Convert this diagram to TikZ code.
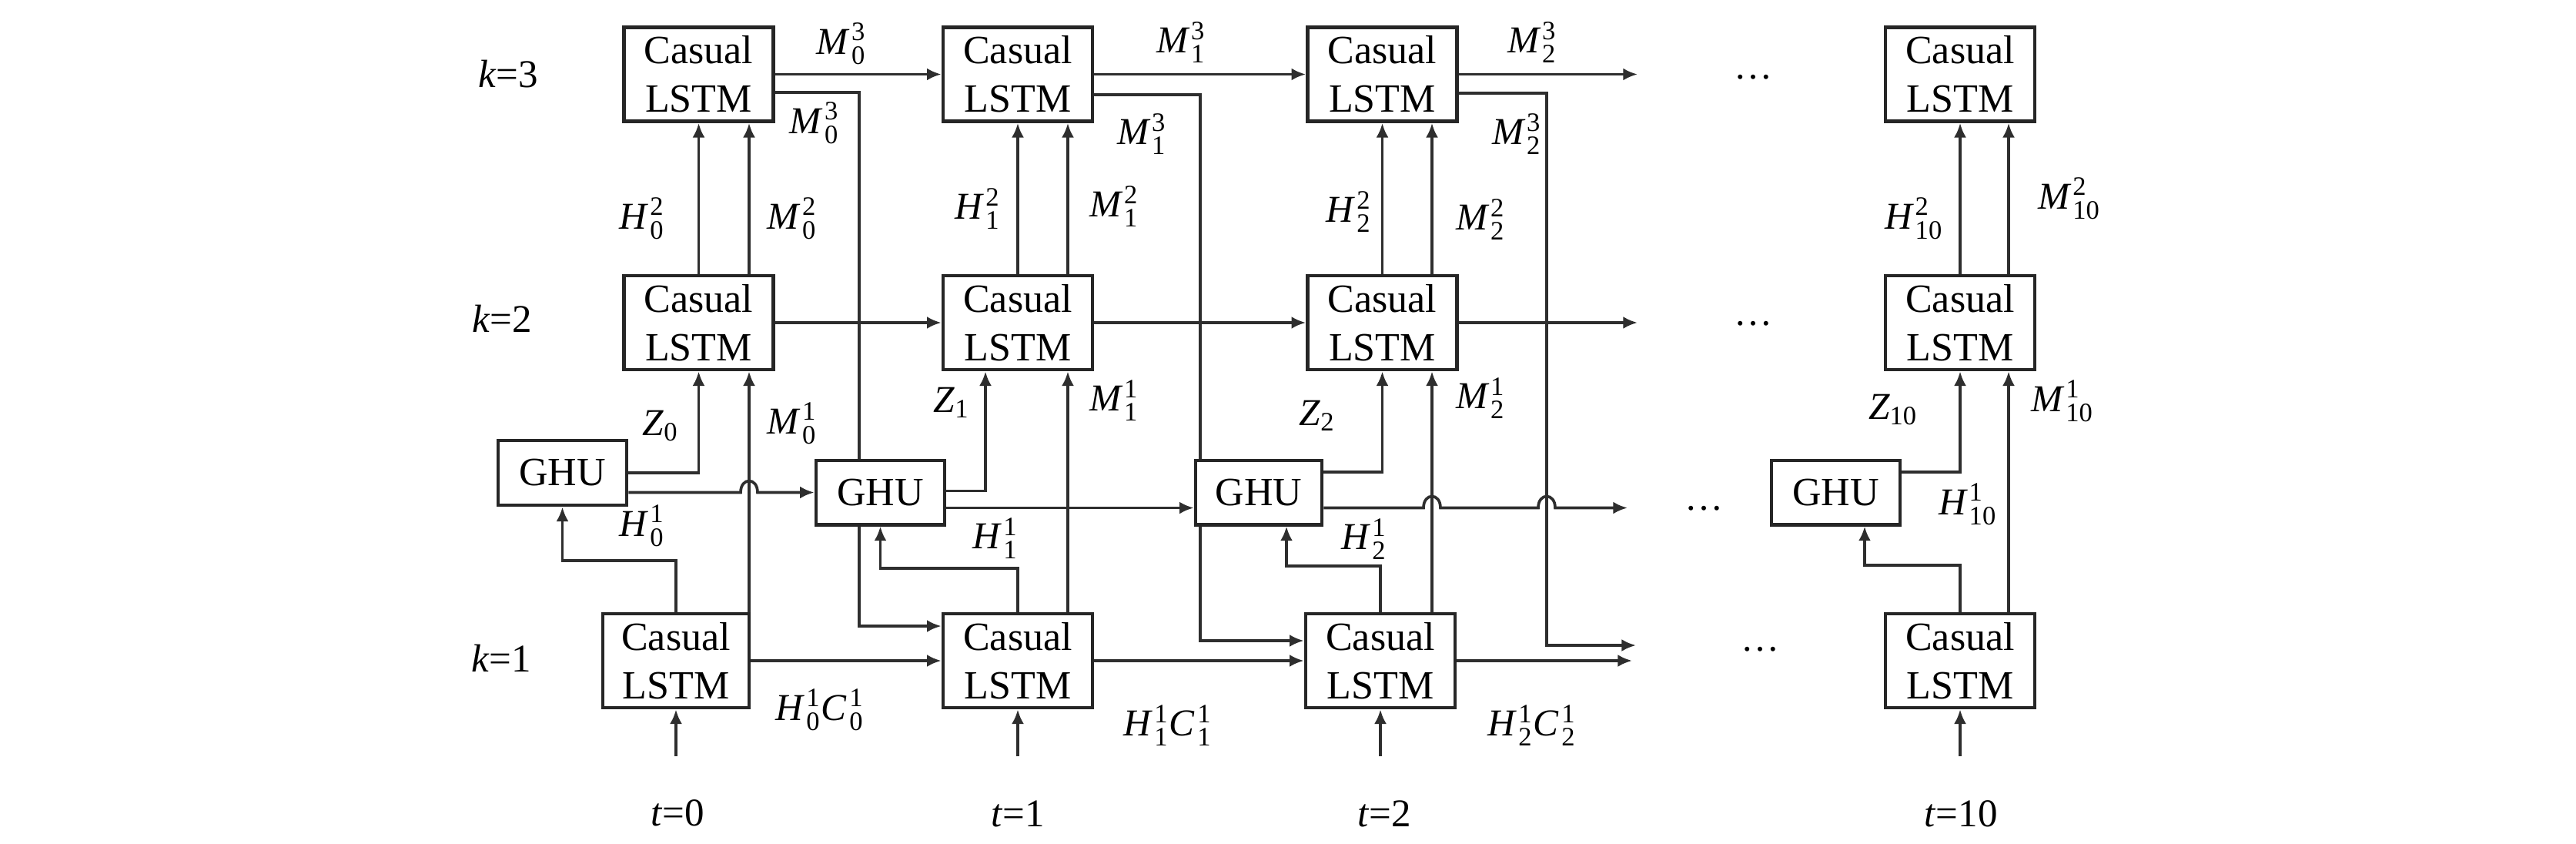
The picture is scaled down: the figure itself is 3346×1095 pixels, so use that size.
\documentclass[tikz,border=0pt]{standalone}
\usepackage{amsmath}
\usepackage{fontspec}
\setmainfont{Liberation Serif}
\usetikzlibrary{arrows.meta,calc,backgrounds}
\newcommand\sy[3]{$\textit{#1}\mkern1.5mu_{\text{#2}}^{\text{#3}}$}
\newcommand\hcl[1]{$\textit{H}\mkern1.5mu_{\text{#1}}^{\text{1}}\textit{C}\mkern1.5mu_{\text{#1}}^{\text{1}}$}
\begin{document}
\begin{tikzpicture}[x=0.3pt,y=-0.3pt,
  lstm/.style={draw=black!85,line width=1.4pt,fill=white,minimum width=58.2pt,minimum height=36.6pt,inner sep=0pt,align=center,font=\fontsize{15.6}{18.9}\selectfont},
  ghu/.style={draw=black!85,line width=1.4pt,fill=white,minimum width=50.1pt,minimum height=25pt,inner sep=0pt,font=\fontsize{15.6}{18}\selectfont},
  ln/.style={draw=black!82,line width=1.1pt},
  arr/.style={ln,-{Latex[length=5.6pt,width=4.8pt]}},
  lab/.style={inner sep=0pt,font=\fontsize{14.8}{17}\selectfont},
  klab/.style={inner sep=0pt,font=\fontsize{15.3}{17}\selectfont},
  dts/.style={inner sep=0pt,font=\fontsize{15}{15}\selectfont}]
\useasboundingbox (0,0) rectangle (3346,1095);
% boxes
\node[lstm] (A3) at (907.5,96.5) {Casual\\LSTM};
\node[lstm] (A2) at (907.5,419) {Casual\\LSTM};
\node[lstm,minimum width=57pt] (A1) at (878,858) {Casual\\LSTM};
\node[ghu,minimum height=25.2pt] (G0) at (730.5,614) {GHU};
\node[lstm] (B3) at (1322,96.5) {Casual\\LSTM};
\node[lstm] (B2) at (1322,419) {Casual\\LSTM};
\node[lstm] (B1) at (1322,858) {Casual\\LSTM};
\node[ghu] (G1) at (1143.5,639.5) {GHU};
\node[lstm] (C3) at (1795.5,96.5) {Casual\\LSTM};
\node[lstm] (C2) at (1795.5,419) {Casual\\LSTM};
\node[lstm] (C1) at (1793,858) {Casual\\LSTM};
\node[ghu,minimum width=49.2pt] (G2) at (1635,639.5) {GHU};
\node[lstm] (D3) at (2546,96.5) {Casual\\LSTM};
\node[lstm] (D2) at (2546,419) {Casual\\LSTM};
\node[lstm] (D1) at (2546,858) {Casual\\LSTM};
\node[ghu] (G10) at (2384.5,639.5) {GHU};
% helper coordinates
\coordinate (xm0) at (973,0);
\coordinate (xm1) at (1387,0);
\coordinate (xm2) at (1860,0);
\coordinate (xm10) at (2609,0);
\coordinate (xz1) at (1280,0);
\coordinate (gx2) at (1671,0);
\coordinate (gx10) at (2422,0);
\coordinate (hb0) at (0,728);
\coordinate (hb1) at (0,738);
\coordinate (hb2) at (0,735);
\coordinate (hb10) at (0,734);
\coordinate (m0) at (1116,813);
\coordinate (m1) at (1559,832);
\coordinate (m2) at (2009,838);
\coordinate (e3) at (2127,96.5);
\coordinate (e2) at (2127,419);
\coordinate (e1) at (2120,858);
\coordinate (em) at (2125,838);
\coordinate (eg) at (2114,659.5);
\coordinate (in0) at (878,982);
\coordinate (in1) at (1322,982);
\coordinate (in2) at (1793,982);
\coordinate (in10) at (2546,982);
% labels
\node[klab] (k3) at (660,96) {\textit{k}=3};
\node[klab] (k2) at (652,414) {\textit{k}=2};
\node[klab] (k1) at (651,855) {\textit{k}=1};
\node[klab] (t0) at (880,1056) {\textit{t}=0};
\node[klab] (t1) at (1322,1057) {\textit{t}=1};
\node[klab] (t2) at (1798,1057) {\textit{t}=2};
\node[klab] (t10) at (2547,1057) {\textit{t}=10};
\node[lab] (la1) at (1093,57) {\sy{M}{0}{3}};
\node[lab] (la2) at (1058,160) {\sy{M}{0}{3}};
\node[lab] (la3) at (834,284) {\sy{H}{0}{2}};
\node[lab] (la4) at (1029,284) {\sy{M}{0}{2}};
\node[lab] (la5) at (858,553) {$\textit{Z}_{\text{0}}$};
\node[lab] (la6) at (1029,550) {\sy{M}{0}{1}};
\node[lab] (la7) at (834,683) {\sy{H}{0}{1}};
\node[lab] (la8) at (1065,922) {\hcl{0}};
\node[lab] (lb1) at (1534,55) {\sy{M}{1}{3}};
\node[lab] (lb2) at (1483,174) {\sy{M}{1}{3}};
\node[lab] (lb3) at (1270,271) {\sy{H}{1}{2}};
\node[lab] (lb4) at (1447,268) {\sy{M}{1}{2}};
\node[lab] (lb5) at (1236,523) {$\textit{Z}_{\text{1}}$};
\node[lab] (lb6) at (1447,520) {\sy{M}{1}{1}};
\node[lab] (lb7) at (1293,699) {\sy{H}{1}{1}};
\node[lab] (lb8) at (1517,942) {\hcl{1}};
\node[lab] (lc1) at (1990,55) {\sy{M}{2}{3}};
\node[lab] (lc2) at (1970,174) {\sy{M}{2}{3}};
\node[lab] (lc3) at (1752,275) {\sy{H}{2}{2}};
\node[lab] (lc4) at (1923,285) {\sy{M}{2}{2}};
\node[lab] (lc5) at (1711,540) {$\textit{Z}_{\text{2}}$};
\node[lab] (lc6) at (1923,517) {\sy{M}{2}{1}};
\node[lab] (lc7) at (1772,700) {\sy{H}{2}{1}};
\node[lab] (lc8) at (1990,942) {\hcl{2}};
\node[lab] (ld3) at (2486,284) {\sy{H}{10}{2}};
\node[lab] (ld4) at (2688,258) {\sy{M}{10}{2}};
\node[lab] (ld5) at (2459,532) {$\textit{Z}_{\text{10}}$};
\node[lab] (ld6) at (2679,521) {\sy{M}{10}{1}};
\node[lab] (ld7) at (2556,655) {\sy{H}{10}{1}};
\node[dts] (d3) at (2277,100) {\textellipsis};
\node[dts] (d2) at (2277,420) {\textellipsis};
\node[dts] (dg) at (2213,660) {\textellipsis};
\node[dts] (d1) at (2286,843) {\textellipsis};
\begin{scope}[on background layer]
\fill[white] (0,0) rectangle (3346,1095);
% horizontal flows
\draw[arr] (A3.east) -- (B3.west);
\draw[arr] (B3.east) -- (C3.west);
\draw[arr] (C3.east) -- (e3);
\draw[arr] (A2.east) -- (B2.west);
\draw[arr] (B2.east) -- (C2.west);
\draw[arr] (C2.east) -- (e2);
\draw[arr] (A1.east) -- (B1.west);
\draw[arr] (B1.east) -- (C1.west);
\draw[arr] (C1.east) -- (e1);
% M^3 to next bottom layer
\draw[arr] ([yshift=-7pt]A3.east) -| (m0) -- (m0 -| B1.west);
\draw[arr] ([yshift=-8pt]B3.east) -| (m1) -- (m1 -| C1.west);
\draw[arr] ([yshift=-7.4pt]C3.east) -| (m2) -- (em);
% column 0
\draw[arr] (A2.north) -- (A3.south);
\draw[arr] (A2.north -| xm0) -- (A3.south -| xm0);
\draw[arr] (A1.north -| xm0) -- (A2.south -| xm0);
\draw[arr] (G0.east) -| (A2.south);
\draw[arr] (A1.north) |- (G0.south |- hb0) -- (G0.south);
\draw[arr] (G0.east |- G1.west) -- ($(xm0 |- G1.west)+(-11,0)$) .. controls +(0,-20) and +(0,-20) .. ($(xm0 |- G1.west)+(11,0)$) -- (G1.west);
% column 1
\draw[arr] (B2.north) -- (B3.south);
\draw[arr] (B2.north -| xm1) -- (B3.south -| xm1);
\draw[arr] (B1.north -| xm1) -- (B2.south -| xm1);
\draw[arr] ([yshift=0.6pt]G1.east) -| (B2.south -| xz1);
\draw[arr] (B1.north) |- (G1.south |- hb1) -- (G1.south);
\draw[arr] ([yshift=-6pt]G1.east) -- ([yshift=-6pt]G2.west);
% column 2
\draw[arr] (C2.north) -- (C3.south);
\draw[arr] (C2.north -| xm2) -- (C3.south -| xm2);
\draw[arr] (C1.north -| xm2) -- (C2.south -| xm2);
\draw[arr] ([yshift=8pt]G2.east) -| (C2.south);
\draw[arr] (C1.north) |- (gx2 |- hb2) -- (G2.south -| gx2);
\draw[arr] ([yshift=-6pt]G2.east) -- ($(xm2 |- eg)+(-11,0)$) .. controls +(0,-20) and +(0,-20) .. ($(xm2 |- eg)+(11,0)$) -- ($(m2 |- eg)+(-11,0)$) .. controls +(0,-20) and +(0,-20) .. ($(m2 |- eg)+(11,0)$) -- (eg);
% column 10
\draw[arr] (D2.north) -- (D3.south);
\draw[arr] (D2.north -| xm10) -- (D3.south -| xm10);
\draw[arr] (D1.north -| xm10) -- (D2.south -| xm10);
\draw[arr] ([yshift=8pt]G10.east) -| (D2.south);
\draw[arr] (D1.north) |- (gx10 |- hb10) -- (G10.south -| gx10);
% inputs
\draw[arr] (in0) -- (A1.south);
\draw[arr] (in1) -- (B1.south);
\draw[arr] (in2) -- (C1.south);
\draw[arr] (in10) -- (D1.south);
\end{scope}
\end{tikzpicture}
\end{document}
